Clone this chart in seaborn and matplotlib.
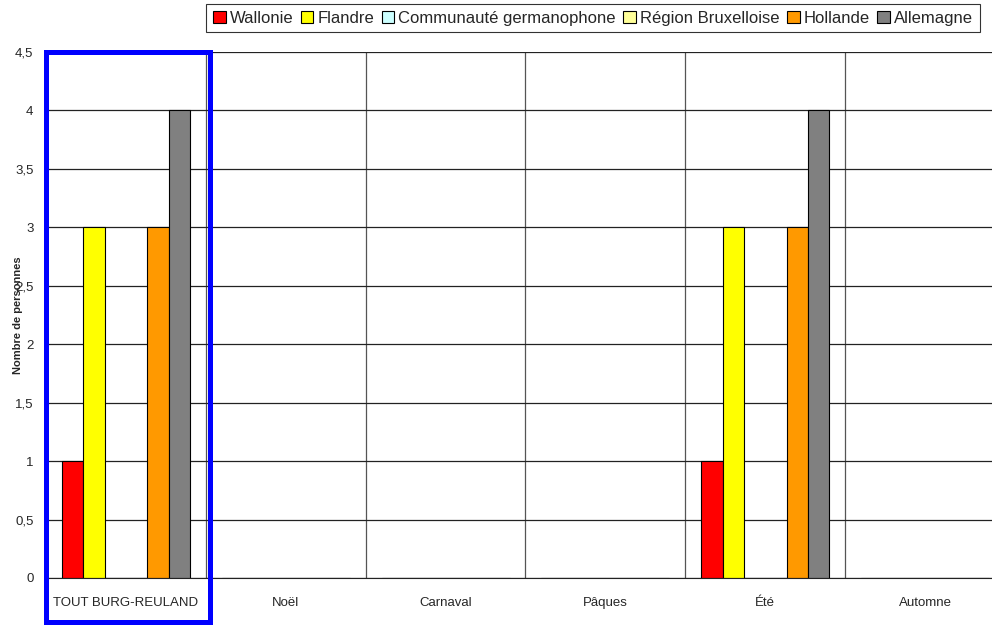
import pandas as pd
import seaborn as sns
import matplotlib.pyplot as plt
from matplotlib.patches import Rectangle
from matplotlib.ticker import FixedLocator, FuncFormatter

categories = ['TOUT BURG-REULAND', 'Noël', 'Carnaval', 'Pâques', 'Été', 'Automne']
series = ['Wallonie', 'Flandre', 'Communauté germanophone', 'Région Bruxelloise',
          'Hollande', 'Allemagne']
wallonie = [1, 0, 0, 0, 1, 0]
flandre = [3, 0, 0, 0, 3, 0]
germanophone = [0, 0, 0, 0, 0, 0]
bruxelles = [0, 0, 0, 0, 0, 0]
hollande = [3, 0, 0, 0, 3, 0]
allemagne = [4, 0, 0, 0, 4, 0]
colors = ['#FF0000', '#FFFF00', '#CCFFFF', '#FFFF99', '#FF9900', '#808080']

values = [wallonie, flandre, germanophone, bruxelles, hollande, allemagne]
df = pd.DataFrame({
    'Période': categories * len(series),
    'Origine': [s for s in series for _ in categories],
    'Nombre': [v for vals in values for v in vals],
})

sns.set_style('white')
plt.rcParams['font.family'] = ['Liberation Sans', 'DejaVu Sans']

fig = plt.figure(figsize=(9.92, 6.25), dpi=100)
ax = fig.add_axes([46 / 992, 1 - 578 / 625, 959 / 992, 526 / 625])

sns.barplot(data=df, x='Période', y='Nombre', hue='Origine', order=categories,
            hue_order=series, palette=colors, saturation=1, width=0.8,
            edgecolor='black', linewidth=0.8, ax=ax)

ax.set_ylim(0, 4.5)
ax.set_xlim(-0.5, 5.5)
ax.set_yticks([i * 0.5 for i in range(10)])
ax.yaxis.set_major_formatter(FuncFormatter(lambda v, p: f'{v:g}'.replace('.', ',')))
ax.grid(axis='y', color='#222222', linewidth=0.9)
ax.xaxis.set_minor_locator(FixedLocator([i + 0.5 for i in range(-1, 6)]))
ax.grid(axis='x', which='minor', color='#555555', linewidth=0.9)
ax.set_axisbelow(True)
ax.tick_params(axis='x', which='major', length=0, labelsize=9.5, pad=14)
ax.tick_params(axis='x', which='minor', length=5, direction='out', color='#222222')
ax.tick_params(axis='y', length=5, direction='out', labelsize=9.5, color='#222222', pad=4)
for s in ['top', 'right']:
    ax.spines[s].set_visible(False)
ax.spines['left'].set_color('#222222')
ax.spines['bottom'].set_color('#222222')
ax.set_xlabel('')
ax.set_ylabel('Nombre de personnes', fontsize=8, fontweight='bold', labelpad=-6)

handles, labels = ax.get_legend_handles_labels()
ax.get_legend().remove()
leg = fig.legend(handles, labels, loc='upper center', bbox_to_anchor=(593 / 992, 1 - 4 / 625),
                 ncol=6, frameon=True, fancybox=False, edgecolor='black', fontsize=12,
                 handlelength=0.75, handleheight=0.75, handletextpad=0.25,
                 columnspacing=0.45, borderpad=0.4, borderaxespad=0)
leg.get_frame().set_linewidth(0.8)

fig.patches.append(Rectangle((46 / 992, 1 - 622 / 625), 164 / 992, 570 / 625,
                             transform=fig.transFigure, fill=False,
                             edgecolor='#0000FF', linewidth=3.6, zorder=10))

fig.savefig('out.png', dpi=100)
